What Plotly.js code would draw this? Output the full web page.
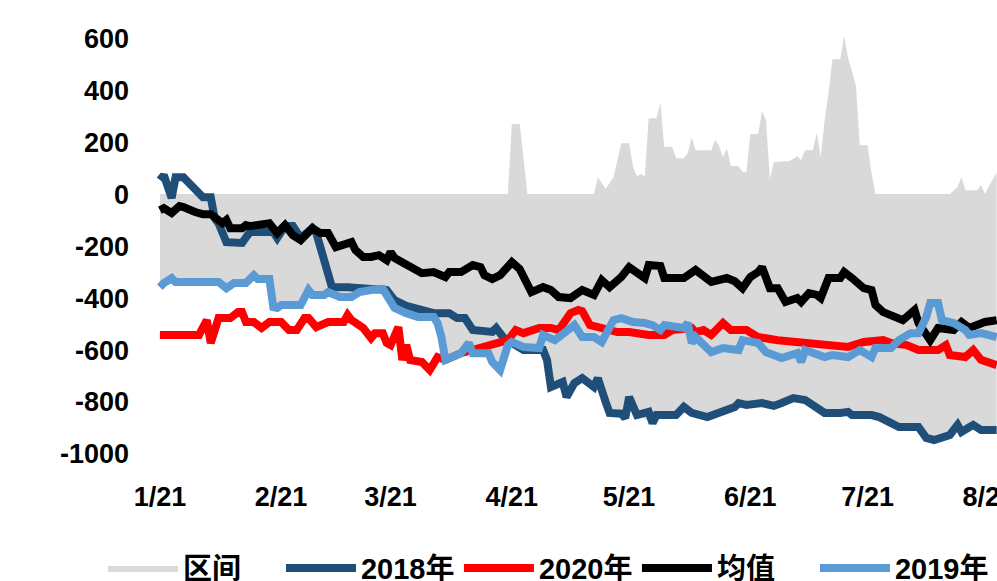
<!DOCTYPE html>
<html>
<head>
<meta charset="utf-8">
<script src="https://cdn.plot.ly/plotly-3.0.1.min.js"></script>
<style>
  body { margin: 0; overflow: hidden; background: #fff; }
</style>
</head>
<body>
<!-- chart is wider than the window, the right side gets cut like in the original -->
<div id="myPlot" style="width:1300px;height:581px;"></div>
<script>
// days counted from 1/21
var days2018 = [0,1,3,4,6,8,10,11,13,14,15,17,21,23,29,30,32,34,36,39,40,44,48,58,60,62,63,70,74,76,78,80,85,86,88,93,98,99,100,103,104,106,108,111,112,114,115,118,119,120,121,122,125,126,127,132,134,136,140,143,147,148,150,154,157,159,162,165,168,170,174,176,177,182,184,189,194,196,198,202,204,205,208,210,214]
var val2018 = [54,73,-15,65,65,35,8,-12,-12,-92,-112,-185,-188,-146,-146,-169,-123,-123,-169,-131,-150,-358,-358,-369,-408,-419,-430,-458,-458,-477,-477,-523,-530,-515,-554,-600,-600,-638,-742,-723,-781,-727,-708,-742,-708,-800,-842,-845,-862,-781,-819,-850,-838,-881,-850,-850,-819,-842,-858,-842,-819,-804,-811,-804,-815,-804,-785,-792,-819,-842,-842,-838,-850,-850,-858,-896,-896,-938,-946,-927,-888,-915,-888,-908,-908]

var days2020 = [0,10,12,13,15,18,20,21,22,24,26,28,31,33,35,37,38,40,43,47,48,49,52,54,55,57,58,59,61,62,63,64,67,69,71,73,77,80,84,87,89,91,93,97,100,102,105,107,108,110,113,117,120,125,129,131,136,137,139,141,144,146,150,153,158,164,168,173,176,180,185,187,191,194,199,201,202,206,208,210,214]
var val2020 = [-542,-542,-485,-573,-477,-477,-454,-454,-492,-492,-515,-492,-492,-523,-523,-477,-477,-512,-492,-492,-465,-485,-515,-554,-535,-535,-573,-581,-512,-638,-581,-638,-646,-677,-627,-638,-612,-600,-588,-569,-562,-523,-535,-515,-515,-523,-458,-446,-450,-504,-515,-531,-531,-542,-542,-523,-515,-531,-523,-542,-496,-523,-523,-550,-562,-569,-581,-581,-588,-569,-562,-573,-581,-600,-600,-581,-619,-627,-600,-638,-658]

var daysAvg = [0,1,3,5,6,8,9,11,13,15,16,17,18,21,22,23,26,28,29,30,32,34,36,38,39,41,43,45,47,49,50,52,54,56,58,59,60,62,64,67,70,73,74,77,80,82,83,85,87,89,90,92,95,98,100,102,105,108,111,113,115,118,120,124,125,128,129,134,137,141,144,145,147,149,151,153,154,156,158,160,163,164,166,168,169,171,174,175,177,180,182,183,185,187,189,190,193,194,197,199,203,205,207,211,214]
var valAvg = [-62,-54,-73,-46,-50,-65,-69,-77,-77,-100,-112,-100,-131,-131,-119,-123,-112,-112,-131,-150,-119,-158,-177,-150,-131,-150,-150,-204,-196,-185,-215,-242,-242,-235,-254,-223,-246,-265,-281,-304,-300,-319,-300,-300,-273,-281,-312,-327,-312,-281,-262,-288,-377,-358,-369,-396,-400,-369,-388,-331,-358,-319,-281,-323,-273,-277,-323,-323,-292,-338,-323,-323,-335,-362,-319,-300,-281,-362,-362,-415,-400,-415,-381,-388,-400,-323,-323,-300,-323,-362,-369,-427,-454,-465,-473,-485,-446,-496,-562,-515,-523,-492,-515,-492,-485]

var days2019 = [0,1,3,4,15,17,19,22,24,25,28,29,30,31,36,38,39,42,43,46,49,51,54,56,57,60,61,63,66,70,71,72,73,75,77,79,80,84,85,87,89,90,93,97,98,101,103,106,108,111,113,116,118,121,124,126,128,129,134,135,136,137,141,144,148,149,153,155,159,163,164,165,170,172,176,179,182,183,187,189,192,194,196,197,199,200,203,206,207,210,214]
var val2019 = [-358,-342,-323,-338,-338,-362,-342,-342,-312,-327,-327,-435,-438,-427,-427,-369,-388,-388,-377,-396,-396,-377,-369,-369,-365,-438,-446,-458,-473,-473,-496,-550,-638,-627,-612,-573,-612,-612,-646,-677,-581,-569,-588,-592,-542,-562,-542,-504,-550,-550,-569,-485,-477,-492,-496,-504,-523,-504,-515,-496,-573,-550,-608,-592,-600,-562,-573,-608,-631,-612,-646,-600,-627,-619,-627,-600,-627,-592,-592,-562,-535,-535,-473,-419,-419,-485,-496,-523,-542,-535,-550]

// 区间 band, top and bottom edge
var daysHigh = [0,89,90,92,94,111,112,114,116,117,118,120,121,122,123,124,125,127,128,129,131,132,134,135,136,137,141,142,143,144,145,146,148,149,150,151,153,154,155,156,157,161,163,164,165,167,168,169,170,171,172,174,175,176,178,179,181,182,183,202,203,204,205,206,209,210,211,212,214]
var valHigh = [0,0,270,270,0,0,65,20,65,130,196,196,104,69,77,69,292,292,350,181,181,138,138,158,219,169,169,208,185,142,177,108,108,85,85,231,231,319,285,58,123,127,146,131,169,169,235,142,285,388,519,519,608,523,419,188,188,81,0,0,15,27,65,15,15,35,0,30,81]
var daysLow = [0,3,15,17,22,24,28,29,36,38,42,46,49,57,60,63,66,70,72,73,77,79,80,84,87,89,90,92,98,99,100,103,104,106,108,111,112,114,115,119,121,122,126,127,132,134,140,147,150,159,162,168,170,182,189,194,198,202,204,210,214]
var valLow = [-358,-323,-338,-362,-342,-312,-327,-435,-427,-369,-388,-396,-396,-365,-438,-458,-473,-473,-550,-638,-612,-573,-612,-612,-677,-581,-569,-600,-600,-638,-742,-723,-781,-727,-708,-742,-708,-800,-842,-862,-819,-850,-881,-850,-850,-819,-858,-819,-811,-804,-785,-819,-842,-850,-896,-896,-946,-927,-888,-908,-908]

// y tick labels (plain hyphen like the original)
var yTickVals = [-1000,-800,-600,-400,-200,0,200,400,600]
var yTickText = ["-1000","-800","-600","-400","-200","0","200","400","600"]

function toDates(days) {
  return days.map(function (d) {
    return new Date(Date.UTC(2021, 0, 21 + d)).toISOString().slice(0, 10)
  })
}

var lineW = 8
var boldFont = {family: "Liberation Sans, Arial, sans-serif", size: 27, color: '#000', weight: 'bold'}

// Define Data
var data = [
  {x: toDates(daysLow), y: valLow, mode: "lines", line: {width: 0, color: '#d9d9d9'},
   showlegend: false, hoverinfo: "skip"},
  {x: toDates(daysHigh), y: valHigh, mode: "lines", line: {width: 0, color: '#d9d9d9'},
   fill: "tonexty", fillcolor: '#d9d9d9', name: "区间", hoverinfo: "skip"},

  {x: toDates(days2018), y: val2018, mode: "lines",
   line: {color: '#1f4e79', width: lineW}, name: "2018年"},
  {x: toDates(days2020), y: val2020, mode: "lines",
   line: {color: '#ff0000', width: lineW}, name: "2020年"},
  {x: toDates(daysAvg), y: valAvg, mode: "lines",
   line: {color: '#000000', width: lineW}, name: "均值"},
  {x: toDates(days2019), y: val2019, mode: "lines",
   line: {color: '#5b9bd5', width: lineW}, name: "2019年"}
]

// Define Layout
// plot runs on past the window edge (x=997 is 8/23), so the right side is cut off
var layout = {
  width: 1300,
  height: 581,
  margin: {l: 156, r: 100, t: 33, b: 127},
  paper_bgcolor: '#fff',
  plot_bgcolor: '#fff',
  showlegend: true,
  xaxis: {
    type: "date",
    range: ['2021-01-20', '2021-10-14'],
    tick0: '2021-01-21',
    dtick: 'M1',
    tickformat: '%-m/%d',
    showgrid: false,
    zeroline: false,
    showline: false,
    ticks: '',
    ticklabelstandoff: 24,
    ticklabeloverflow: 'allow',
    tickfont: boldFont
  },
  yaxis: {
    range: [-1000, 620],
    tickvals: yTickVals,
    ticktext: yTickText,
    showgrid: false,
    zeroline: false,
    showline: false,
    ticks: '',
    ticklabelstandoff: 26,
    tickfont: boldFont
  },
  legend: {
    orientation: "h",
    xref: "container",
    yref: "container",
    x: 0.0792,
    xanchor: "left",
    y: 0.022,
    yanchor: "middle",
    itemwidth: 70,
    entrywidth: 93,
    traceorder: "normal",
    font: {family: "Liberation Sans, 'Noto Sans CJK SC', sans-serif", size: 29, color: '#000', weight: 'bold'}
  }
}

// Display using Plotly
Plotly.newPlot("myPlot", data, layout, {displayModeBar: false, staticPlot: true})
</script>
</body>
</html>
